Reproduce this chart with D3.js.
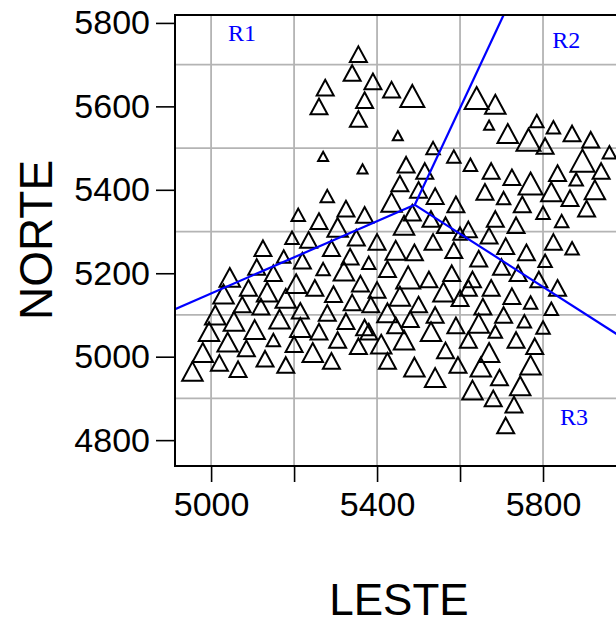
<!DOCTYPE html>
<html>
<head>
<meta charset="utf-8">
<script src="https://cdn.jsdelivr.net/npm/d3@7"></script>
<style>
  body { margin: 0; background: #fff; }
  svg { display: block; }
</style>
</head>
<body>
<svg id="chart" width="616" height="626"></svg>
<script>
// coordenadas das amostras
const leste = [
  5355,5340,5390,5275,5370,5260,5355,5435,5485,5450,
  5270,5365,5280,5535,5585,5625,5470,5515,5455,5500,
  5540,5590,5435,5325,5370,5210,5260,5305,5485,5465,
  5530,5565,5640,5685,5670,5715,5785,5825,5870,5765,
  5805,5915,5960,5895,5940,5675,5725,5770,5835,5880,
  5925,5660,5705,5750,5820,5865,5905,5800,5845,5685,
  5735,5620,5670,5125,5195,5235,5175,5220,5110,5150,
  5045,5090,5205,5250,5030,5075,5135,5180,5120,5010,
  5055,5105,5165,5215,5260,4995,5040,5085,5150,5200,
  5245,4980,5020,5065,5130,5180,4955,5290,5350,5400,
  5335,5380,5445,5490,5535,5585,5270,5320,5360,5425,
  5475,5525,5580,5295,5340,5400,5455,5500,5560,5280,
  5325,5370,5425,5480,5540,5590,5305,5355,5410,5465,
  5530,5565,5290,5425,5490,5540,5595,5825,5870,5805,
  5710,5760,5645,5700,5740,5790,5835,5630,5675,5725,
  5770,5820,5655,5705,5755,5800,5645,5685,5735,5780,
  5620,5670,5770,5650,5695,5745,5630,5680,5730,5710,
  5620,5600,5385,5445,5380,5215,5600
];
const norte = [
  5725,5680,5660,5645,5615,5600,5570,5640,5625,5530,
  5480,5450,5385,5500,5480,5460,5460,5445,5415,5400,
  5385,5365,5370,5355,5340,5340,5325,5310,5345,5315,
  5330,5315,5620,5605,5555,5535,5565,5550,5535,5520,
  5505,5520,5490,5470,5445,5445,5430,5415,5440,5425,
  5400,5395,5380,5365,5395,5380,5355,5345,5325,5330,
  5315,5305,5290,5260,5285,5280,5240,5230,5215,5200,
  5190,5165,5175,5165,5150,5125,5155,5140,5120,5100,
  5085,5065,5090,5070,5060,5060,5035,5020,5040,5030,
  5010,5010,4985,4970,4995,4980,4965,5260,5285,5275,
  5240,5225,5255,5250,5275,5255,5210,5205,5175,5210,
  5190,5185,5200,5150,5130,5160,5145,5125,5155,5105,
  5085,5070,5105,5090,5100,5075,5040,5025,5030,5040,
  5060,5015,4990,4990,4975,4950,4980,5275,5260,5230,
  5265,5250,5235,5215,5200,5185,5165,5185,5165,5145,
  5130,5115,5120,5100,5085,5070,5080,5060,5040,5025,
  5040,5010,4980,4975,4950,4930,4920,4900,4885,4835,
  5165,5140,5125,5075,5060,5110,5295
];
// classe de tamanho do simbolo
const tamanho = [
  2,2,2,2,2,2,2,2,3,1,
  1,1,1.5,1.5,1.5,1.5,2,2,2,2,
  2,2,2.5,2,2,1.5,2,2.5,2,2.5,
  2,2,3,2.5,1,2.5,1.5,1.5,2,3,
  2,2,1.5,3,2,2,2,3,2,1.5,
  2.5,2,1.5,2,2.5,2,2,1.5,1.5,2,
  2,2,2,2,1.5,2,1.5,2,2,2,
  2.5,2,2.5,2,2.5,2,2.5,2.5,2,2.5,
  2.5,2.5,2.5,2.5,2,2.5,2.5,2,1.5,2,
  2.5,2.5,2,2,2,2,2.5,2,2,2,
  2,1.5,2.5,2,2,2,1.5,2.5,2,2,
  3,2,2,2,2,2,2.5,2,2.5,2,
  2,2,2.5,2,2,2,2,2,2.5,2.5,
  2.5,2,2,2,2.5,2.5,2,2,1.5,1.5,
  2,2,2,2,2,2,2,2,2,2,
  1.5,1.5,2,2,1.5,1.5,2.5,1.5,2,2,
  2,2.5,2.5,2.5,2,2.5,2.5,2,2,2,
  2,2,2,2,2,2,1.5
];

// divisao em regioes: centro e extremidades das retas
const centro = [5491, 5364];
const extremos = [[4913, 5114], [5705, 5819], [6000, 5040]];
const regioes = [
  { nome: "R1", leste: 5041, norte: 5757 },
  { nome: "R2", leste: 5822, norte: 5740 },
  { nome: "R3", leste: 5841, norte: 4836 }
];

const yTicks = [4800, 5000, 5200, 5400, 5600, 5800];
const xTicks = [5000, 5200, 5400, 5600, 5800];
const xLabels = [5000, 5400, 5800];
const xGrid = [5000, 5200, 5400, 5600, 5800];
const yGrid = [4900, 5100, 5300, 5500, 5700];

const xDomain = [4913, 6000];
const yDomain = [4738, 5819];

const svg = d3.select("#chart");
const x = d3.scaleLinear().domain(xDomain).range([175, 626]);
const y = d3.scaleLinear().domain(yDomain).range([466, 15]);
const w = d3.scaleLinear().domain([1, 3]).range([10, 24]);

const font = "'Liberation Sans', Arial, Helvetica, sans-serif";

svg.append("defs").append("clipPath").attr("id", "plot")
  .append("rect")
  .attr("x", x(xDomain[0])).attr("y", y(yDomain[1]))
  .attr("width", x(xDomain[1]) - x(xDomain[0]))
  .attr("height", y(yDomain[0]) - y(yDomain[1]));

// grade
svg.append("g").selectAll("line").data(xGrid).join("line")
  .attr("x1", d => x(d)).attr("x2", d => x(d))
  .attr("y1", y(yDomain[0])).attr("y2", y(yDomain[1]))
  .attr("stroke", "#b4b4b4").attr("stroke-width", 1.8);
svg.append("g").selectAll("line").data(yGrid).join("line")
  .attr("x1", x(xDomain[0])).attr("x2", x(xDomain[1]))
  .attr("y1", d => y(d)).attr("y2", d => y(d))
  .attr("stroke", "#b4b4b4").attr("stroke-width", 1.8);

// triangulos
const tri = s => {
  const h = s * 0.92;
  return d3.line()([[0, -h / 2], [s / 2, h / 2], [-s / 2, h / 2]]) + "Z";
};
svg.append("g").attr("clip-path", "url(#plot)")
  .selectAll("path").data(leste.map((d, i) => i)).join("path")
  .attr("transform", i => `translate(${x(leste[i])},${y(norte[i])})`)
  .attr("d", i => tri(w(tamanho[i])))
  .attr("fill", "none").attr("stroke", "#000").attr("stroke-width", 2);

// retas das regioes
const g = svg.append("g").attr("clip-path", "url(#plot)");
extremos.forEach(e => {
  g.append("line")
    .attr("x1", x(centro[0])).attr("y1", y(centro[1]))
    .attr("x2", x(e[0])).attr("y2", y(e[1]))
    .attr("stroke", "#0000ff").attr("stroke-width", 2.2);
});
svg.append("g").selectAll("text").data(regioes).join("text")
  .attr("x", d => x(d.leste)).attr("y", d => y(d.norte))
  .attr("fill", "#0000ff")
  .style("font-family", "'Liberation Serif', 'Times New Roman', serif")
  .style("font-size", "24px")
  .text(d => d.nome);

// moldura
svg.append("rect")
  .attr("x", x(xDomain[0])).attr("y", y(yDomain[1]))
  .attr("width", x(xDomain[1]) - x(xDomain[0]))
  .attr("height", y(yDomain[0]) - y(yDomain[1]))
  .attr("fill", "none").attr("stroke", "#000").attr("stroke-width", 2);

// eixos
const ax = svg.append("g").attr("transform", `translate(0,${y(yDomain[0])})`)
  .call(d3.axisBottom(x).tickValues(xTicks).tickSize(16).tickPadding(10)
    .tickFormat(d => xLabels.includes(d) ? d : ""));
const ay = svg.append("g").attr("transform", `translate(${x(xDomain[0])},0)`)
  .call(d3.axisLeft(y).tickValues(yTicks).tickSize(19).tickPadding(6)
    .tickFormat(d3.format("d")));
[ax, ay].forEach(a => {
  a.select(".domain").remove();
  a.selectAll(".tick line").attr("stroke", "#000").attr("stroke-width", 1.6);
  a.selectAll("text").attr("fill", "#000")
    .style("font-family", font).style("font-size", "34px");
});

svg.append("text")
  .attr("x", 399).attr("y", 615)
  .attr("text-anchor", "middle")
  .style("font-family", font).style("font-size", "44px").attr("fill", "#000")
  .text("LESTE");
svg.append("text")
  .attr("transform", "translate(52,240) rotate(-90)")
  .attr("text-anchor", "middle")
  .style("font-family", font).style("font-size", "46px").attr("fill", "#000")
  .text("NORTE");
</script>
</body>
</html>
